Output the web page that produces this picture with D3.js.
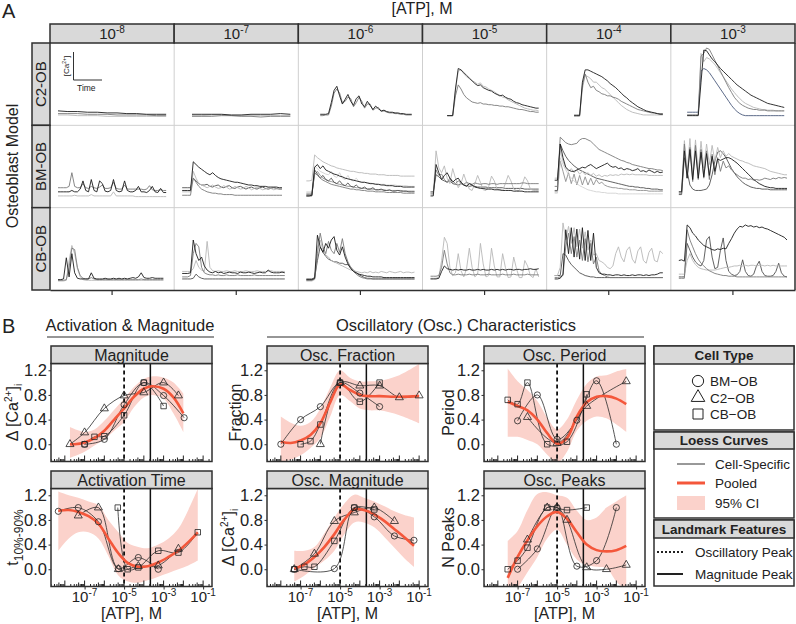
<!DOCTYPE html>
<html>
<head>
<meta charset="utf-8">
<script src="https://d3js.org/d3.v7.min.js"></script>
<style>
  body { margin: 0; background: #fff; }
  svg text { font-family: "Liberation Sans", Arial, sans-serif; fill: #222; }
</style>
</head>
<body>
<script>
// ---------- panel A data ----------
const concExp = ["-8", "-7", "-6", "-5", "-4", "-3"];
const modelsA = ["C2-OB", "BM-OB", "CB-OB"];
const _ = null;

// each cell: list of traces, values in % of cell height, evenly spaced in time
const tracesC2 = [
  [[8,7,7,6,6,5,5,4,4,3,3,3],
   [4,4,4,3,3,3,2,2,2,2,1,1],
   [2,2,1,1,1,0,0,0,0,0,0,0]],
  [[_,3,3,3,3,2,2,3,3,3,4,3],
   [_,0,0,0,1,1,0,0,-1,0,0,0],
   [_,1,1,2,2,1,1,1,1,1,1,1]],
  [[_,_,_,_,_,3,3,3,4,20,38,44,30,18,25,32,22,16,26,30,18,14,22,16,10,15,11,8,9,7,6,6,5,5,4,4,3,3,3,_],
   [_,_,_,_,_,1,1,2,2,15,34,40,34,20,22,28,26,14,20,28,22,12,18,18,9,12,13,7,8,6,5,5,4,4,3,3,2,2,2,_]],
  [[_,_,_,_,_,_,1,1,1,40,70,68,64,60,56,52,48,45,46,42,40,38,37,34,32,30,31,28,26,25,22,20,19,17,16,15,14,13,12,12],
   [_,_,_,_,_,_,1,1,1,30,46,40,32,27,24,21,20,19,20,18,18,17,17,16,16,15,15,14,14,13,12,11,10,10,9,8,7,7,6,6],
   [_,_,_,_,_,_,1,1,1,38,66,68,62,58,55,52,50,47,49,44,43,40,38,36,33,31,28,27,24,22,20,18,16,14,12,11,10,9,9,8]],
  [[_,_,_,_,_,_,_,1,1,1,50,68,68,66,64,62,60,58,55,52,48,45,42,38,34,30,27,23,20,17,14,12,10,8,7,6,5,4,3,3],
   [_,_,_,_,_,_,_,2,2,2,45,62,50,42,44,38,36,33,32,30,30,28,27,25,22,20,18,16,14,12,10,9,8,7,6,5,5,4,4,4],
   [_,_,_,_,_,_,_,0,0,0,40,60,58,55,50,50,46,42,40,36,32,28,24,20,16,13,10,8,6,5,4,3,2,2,2,2,2,2,2,2]],
  [[_,_,_,1,1,1,1,1,50,97,96,90,84,80,75,70,66,62,58,54,50,46,43,40,37,34,31,29,27,25,23,21,19,18,17,16,15,14,13,_],
   [_,_,_,2,2,2,2,2,88,92,100,98,90,82,74,66,58,50,42,35,28,23,19,16,14,12,11,10,10,9,9,9,8,8,8,8,8,8,8,_],
   [_,_,_,2,2,2,2,2,92,80,86,84,80,76,70,64,58,52,46,40,35,30,26,22,19,17,15,13,12,11,10,10,9,9,9,8,8,8,8,_],
   [_,_,_,6,6,6,6,6,66,70,68,64,58,52,46,40,34,28,22,16,11,7,4,2,1,1,1,1,1,1,1,1,1,1,1,1,1,1,1,_]]
];

const tracesBM = [
  [[10,10,10,10,10,12,10,10,14,26,12,10,28,12,10,26,22,11,10,12,28,12,10,11,26,12,10,10,12,18,10,10,9,12,18,10,9,15,9,9],
   [16,16,16,16,18,38,18,16,16,22,16,15,18,16,15,17,20,15,15,16,24,15,14,14,20,14,14,14,14,14,14,13,14,19,13,12,12,13,12,12],
   [4,4,4,4,4,4,5,4,4,4,4,4,6,4,4,4,4,4,4,4,10,4,4,4,4,4,4,4,3,3,3,3,3,3,3,3,3,3,3,3]],
  [[12,12,12,12,54,50,46,43,40,37,35,38,34,31,29,28,27,26,25,24,24,23,22,21,20,20,19,19,18,18,18,17,17,17,17,16,16,_,_,_],
   [5,5,5,5,30,24,18,14,12,10,9,8,8,7,7,6,6,6,6,5,5,5,5,5,5,5,5,5,5,5,5,5,5,5,5,5,5,_,_,_],
   [10,10,10,10,40,30,22,20,18,16,18,20,17,15,16,19,17,14,15,18,16,14,15,18,16,13,15,17,15,13,14,16,15,13,14,15,14,_,_,_],
   [16,16,16,16,30,26,22,20,20,21,18,17,19,20,17,16,18,19,16,15,17,18,16,14,16,17,15,14,16,17,15,14,15,16,15,14,14,_,_,_]],
  [[4,4,5,46,50,44,48,42,40,38,36,35,33,32,30,29,28,27,26,25,24,24,23,22,22,21,21,20,20,19,19,19,18,18,18,17,17,17,17,17],
   [6,6,6,38,34,30,27,25,23,21,20,19,18,17,16,15,14,14,13,13,12,12,11,11,11,10,10,10,10,9,9,9,9,9,9,8,8,8,8,8],
   [26,26,27,64,60,57,54,52,50,48,47,45,44,43,42,41,40,40,39,38,38,37,37,36,36,36,35,35,35,34,34,34,34,34,33,33,33,33,33,33],
   [4,4,4,42,36,30,34,28,26,30,24,22,26,21,19,23,18,17,20,16,15,17,14,14,16,13,13,14,12,12,13,11,11,12,11,11,11,10,10,10],
   [10,10,10,48,44,40,38,36,35,40,33,31,38,30,28,34,27,26,30,25,24,24,23,23,22,22,21,21,21,20,20,20,20,19,19,19,19,18,18,18],
   [8,8,8,35,40,34,30,28,26,25,24,22,21,20,19,18,18,17,16,16,15,15,14,14,14,13,13,13,13,12,12,12,12,12,12,11,11,11,11,11]],
  [[4,4,50,38,28,34,38,30,24,28,30,24,20,18,22,20,17,16,15,15,14,14,14,13,13,13,12,12,12,12,11,11,11,11,10,10,10,10,10,10],
   [8,8,42,34,36,28,24,30,26,22,26,23,21,24,22,21,23,22,21,22,22,21,22,22,21,22,22,22,22,22,22,22,22,23,23,22,22,22,22,22],
   [6,6,70,45,38,48,30,22,44,30,16,22,36,24,14,12,22,34,24,13,12,18,33,26,14,12,12,22,34,26,14,12,12,20,32,26,14,12,12,12],
   [10,10,35,32,28,26,24,26,22,21,20,22,20,19,18,19,18,17,17,17,17,16,16,16,16,16,16,15,15,15,15,15,15,15,14,14,14,14,14,14]],
  [[27,27,80,60,46,42,40,40,42,44,46,45,48,50,47,44,46,48,50,52,48,46,47,44,45,42,44,43,41,42,44,40,41,39,42,40,38,40,38,39],
   [18,18,90,86,82,80,79,80,81,86,88,88,86,84,80,76,72,70,68,66,64,62,60,58,56,55,53,52,50,49,48,47,46,45,44,44,43,42,42,41],
   [30,30,70,55,45,40,44,38,42,36,40,35,38,34,37,33,35,32,34,33,35,34,35,34,36,35,36,35,36,35,35,35,35,35,34,34,34,34,34,34],
   [12,12,80,70,62,56,52,48,45,42,40,38,36,34,32,30,29,28,27,26,25,24,23,22,21,20,19,18,18,17,17,16,16,15,15,14,14,14,13,13],
   [8,8,60,50,42,35,30,26,22,19,17,15,13,12,11,10,10,9,9,8,8,8,8,7,7,7,7,7,7,7,7,7,7,7,7,7,7,7,7,7],
   [10,10,55,40,25,38,22,36,20,34,20,32,20,30,20,28,22,24,20,18,17,16,16,15,15,14,14,13,13,13,12,12,12,12,11,11,11,11,11,11]],
  [[10,10,70,30,72,28,70,30,68,32,66,34,62,40,58,56,58,60,60,58,55,52,48,44,40,36,32,28,25,22,20,18,17,16,16,15,15,15,15,15],
   [8,8,80,30,75,25,78,28,72,30,70,28,65,35,60,40,55,45,48,42,38,35,32,30,30,28,29,27,28,27,28,30,29,28,30,29,31,30,31,30],
   [10,10,85,40,88,35,86,40,84,45,80,50,78,55,75,60,70,62,66,62,60,58,56,55,53,52,50,48,47,46,45,44,42,40,39,38,37,36,35,35],
   [6,6,60,40,20,14,12,12,12,13,14,20,35,55,68,70,66,60,52,44,38,32,28,24,21,19,17,16,15,15,14,14,14,13,13,13,13,13,13,13]]
];

const tracesCB = [
  [[2,2,3,34,6,40,12,4,3,3,3,3,12,4,3,3,3,4,3,3,4,3,4,3,4,3,4,5,4,6,12,5,4,4,5,4,4,4,4,_],
   [1,1,1,2,20,48,46,20,8,4,3,3,5,3,2,2,2,2,2,2,2,2,2,2,2,2,2,2,2,2,3,2,2,2,2,2,2,2,2,_],
   [0,0,0,1,30,52,40,18,6,2,1,1,1,1,1,1,1,1,1,1,1,1,1,1,1,1,1,1,1,1,1,1,1,1,1,1,1,1,1,_]],
  [[11,11,11,12,60,40,30,35,22,16,13,12,14,12,13,11,12,13,12,12,11,13,12,12,13,12,11,12,13,12,12,16,13,12,12,12,13,12,_,_],
   [6,6,6,8,40,55,50,20,12,10,9,9,8,9,8,8,9,8,8,8,9,8,8,8,8,8,9,8,8,8,8,8,8,8,8,8,8,8,_,_],
   [14,14,14,14,18,30,20,16,14,58,20,15,14,15,14,14,15,14,14,15,14,14,14,15,14,14,14,15,14,14,14,14,15,14,14,14,14,14,_,_],
   [3,3,3,3,4,10,6,4,3,3,3,3,3,3,3,3,3,3,3,3,3,3,3,3,3,3,3,3,3,3,3,3,3,3,3,3,3,3,_,_]],
  [[2,2,2,4,67,50,42,55,48,60,65,45,38,50,35,25,18,14,12,10,9,8,7,7,6,6,6,6,5,5,5,5,5,5,5,5,5,5,5,5],
   [1,1,1,3,40,70,50,40,58,45,40,55,42,62,40,28,20,14,10,7,5,4,3,3,3,3,3,3,3,3,3,3,3,3,3,3,3,3,3,3],
   [0,0,0,2,50,60,45,38,35,30,28,26,24,22,20,18,16,15,14,13,12,13,12,14,12,13,12,14,13,12,14,13,12,13,14,12,13,13,12,13],
   [3,3,3,5,30,50,42,36,32,30,28,28,26,26,24,24,20,16,12,9,7,5,4,4,3,3,3,3,3,3,3,3,3,3,3,3,3,3,3,3]],
  [[3,3,3,4,14,22,18,17,16,17,16,17,16,16,17,16,16,17,16,17,16,16,17,16,17,16,17,16,17,17,16,17,17,16,17,17,18,17,17,18],
   [7,7,7,8,20,45,25,12,9,9,10,9,9,9,10,9,9,10,9,9,9,10,9,9,9,9,10,9,9,9,10,9,9,9,9,10,9,9,9,9],
   [4,4,4,6,30,64,55,20,8,12,40,15,6,18,48,20,6,10,55,25,6,8,48,22,6,6,40,20,5,6,35,18,5,5,30,22,8,5,18,6]],
  [[3,3,4,10,75,40,78,35,76,32,78,30,74,30,70,20,12,10,10,9,9,8,9,9,8,9,8,8,9,8,9,9,8,9,8,9,9,10,12,12],
   [5,5,6,8,50,70,40,65,35,60,30,62,28,55,25,35,15,10,8,6,5,5,5,5,5,5,5,5,5,5,5,5,5,5,5,5,5,5,5,5],
   [8,8,20,85,60,80,55,78,50,76,48,72,45,60,38,40,30,28,25,20,18,22,40,50,35,28,45,50,32,26,44,50,30,26,42,48,30,28,44,40],
   [8,8,8,40,38,30,24,20,16,12,10,8,7,6,6,5,5,5,5,5,5,5,5,5,5,5,5,5,5,5,5,5,5,5,5,5,5,5,5,5]],
  [[30,31,29,82,78,70,66,60,56,52,50,48,46,45,47,46,48,47,55,62,70,76,80,79,82,80,81,79,80,78,79,77,76,74,72,70,68,66,64,60],
   [4,4,4,75,60,50,40,32,26,22,18,15,13,11,10,9,8,8,7,7,7,6,6,6,6,6,6,6,6,6,6,6,6,6,6,6,6,6,6,6],
   [10,10,10,30,40,30,24,20,18,17,16,16,16,16,17,18,19,20,20,21,22,22,23,22,23,22,23,23,22,23,23,22,23,22,23,22,22,22,22,22],
   [6,6,6,55,45,35,28,24,22,30,60,65,35,18,20,45,63,30,14,10,8,9,14,31,14,8,7,10,22,29,14,8,7,7,8,14,26,12,7,6]]
];

// ---------- panel B data: [log10 ATP, value] ----------
const magBM = [[-7,0],[-6,0.08],[-5,0.64],[-4,1.0],[-3,0.79],[-1.96,0.43]];
const magC2 = [[-7.74,0],[-7,0.19],[-6,0.58],[-5,0.79],[-4,0.84],[-3,1.0],[-2.25,0.79]];
const magCB = [[-7,0],[-6.5,0.12],[-6,0.13],[-5,0.47],[-4,1.0],[-3,0.62]];
const magPooled = [[-7.74,0],[-7.5,0],[-7,0.03],[-6.5,0.1],[-6,0.22],[-5.5,0.4],[-5,0.58],[-4.5,0.77],[-4,0.9],[-3.6,0.94],[-3,0.9],[-2.5,0.76],[-2,0.5]];
const magCI = [[-7.74,-0.22,0.28],[-7,-0.12,0.2],[-6.5,-0.02,0.24],[-6,0.08,0.38],[-5.5,0.22,0.56],[-5,0.36,0.74],[-4.5,0.6,0.93],[-4,0.76,1.06],[-3.6,0.8,1.1],[-3,0.74,1.08],[-2.5,0.5,1.0],[-2,0.2,0.82]];

const fracBM = [[-8,0],[-7,0.4],[-6,0.61],[-5,1.0],[-4,0.83],[-3,0.61]];
const fracC2 = [[-6,0],[-5,1.0],[-4,0.95],[-3,0.95],[-2,0.76],[-1,0.79]];
const fracCB = [[-7,0],[-6.5,0.05],[-6,0.32],[-5,1.0],[-4,0.69],[-3,1.0]];
const fracPooled = [[-8,0.04],[-7.5,0.02],[-7,0.06],[-6.5,0.15],[-6,0.34],[-5.5,0.68],[-5,0.97],[-4.5,0.88],[-4,0.8],[-3.5,0.78],[-3,0.78],[-2,0.77],[-1,0.78]];
const fracCI = [[-8,-0.3,0.45],[-7.5,-0.25,0.35],[-7,-0.18,0.3],[-6.5,-0.06,0.36],[-6,0.1,0.58],[-5.5,0.45,0.92],[-5,0.8,1.2],[-4.5,0.7,1.08],[-4,0.58,1.02],[-3.5,0.55,1.02],[-3,0.55,1.03],[-2,0.47,1.12],[-1,0.34,1.3]];

const perBM = [[-7,0.38],[-6,0.8],[-5,0.08],[-4,0.39],[-3,1.03],[-2,0]];
const perC2 = [[-6.5,0.44],[-5,0.02],[-3.5,0.62],[-1.5,1.02]];
const perCB = [[-7.5,0.72],[-7,0.65],[-6.5,1.0],[-5.5,0],[-4.5,0.04],[-3.5,0.81]];
const perPooled = [[-7.5,0.69],[-7,0.62],[-6.5,0.55],[-6,0.4],[-5.5,0.18],[-5,0.01],[-4.5,0.1],[-4,0.45],[-3.5,0.68],[-3,0.77],[-2.5,0.78],[-2,0.74],[-1.5,0.65]];
const perCI = [[-7.5,0.12,1.23],[-7,0.12,1.02],[-6.5,0.07,0.88],[-6,0,0.7],[-5.5,-0.17,0.43],[-5,-0.3,0.24],[-4.5,-0.12,0.4],[-4,0.22,0.72],[-3.5,0.38,0.98],[-3,0.45,1.1],[-2.5,0.42,1.12],[-2,0.32,1.18],[-1.5,0.2,1.22]];

const actBM = [[-8.33,0.94],[-7.32,1.0],[-6.3,0.77],[-5.29,0.01],[-4.28,0.19],[-3.27,0]];
const actC2 = [[-7.32,0.87],[-6.3,1.0],[-5.29,0],[-4.28,0.05],[-3.27,0.06],[-2.25,0.33]];
const actCB = [[-5.32,1.0],[-4.82,0],[-4.28,0.03],[-3.27,0.3],[-2.25,0.27],[-1.27,0.6]];
const actPooled = [[-8.33,0.95],[-7.8,0.96],[-7.32,0.93],[-6.8,0.86],[-6.3,0.74],[-5.8,0.5],[-5.29,0.26],[-4.8,0.1],[-4.28,0.04],[-3.8,0.05],[-3.27,0.11],[-2.75,0.2],[-2.25,0.3],[-1.75,0.44],[-1.27,0.6]];
const actCI = [[-8.33,0.3,1.26],[-7.8,0.5,1.2],[-7.32,0.6,1.16],[-6.8,0.6,1.1],[-6.3,0.5,1.04],[-5.8,0.22,0.8],[-5.29,-0.1,0.6],[-4.8,-0.2,0.42],[-4.28,-0.22,0.36],[-3.8,-0.18,0.34],[-3.27,-0.12,0.4],[-2.75,-0.06,0.5],[-2.25,0,0.66],[-1.75,0.06,0.96],[-1.27,0.14,1.3]];

const omagBM = [[-7.32,0],[-5.29,0.01],[-4.28,1.0],[-3.27,0.85],[-2.25,0.54],[-1.26,0.47]];
const omagC2 = [[-7.32,0],[-6.3,0.25],[-5.29,0.78],[-4.28,0.92],[-3.27,1.0],[-2.25,0.78]];
const omagCB = [[-7.32,0],[-6.81,0.04],[-6.3,0.04],[-5.29,0.46],[-4.28,1.0],[-3.27,0.97]];
const omagPooled = [[-7.32,0.01],[-6.8,0.08],[-6.3,0.2],[-5.8,0.36],[-5.29,0.57],[-4.8,0.8],[-4.28,0.97],[-3.8,0.96],[-3.27,0.89],[-2.75,0.78],[-2.25,0.65],[-1.75,0.52],[-1.26,0.38]];
const omagCI = [[-7.32,-0.2,0.3],[-6.8,-0.1,0.3],[-6.3,0.02,0.36],[-5.8,0.14,0.58],[-5.29,0.3,0.84],[-4.8,0.56,1.06],[-4.28,0.76,1.21],[-3.8,0.76,1.16],[-3.27,0.68,1.1],[-2.75,0.52,1.02],[-2.25,0.35,0.94],[-1.75,0.18,0.88],[-1.26,0.04,0.84]];

const peakBM = [[-7,0],[-6,0.33],[-5,1.0],[-4,0.05],[-3,0.14],[-2,1.0]];
const peakC2 = [[-6.5,0.48],[-5.5,1.0],[-5,1.0],[-4.5,0.8],[-3.5,0.03],[-2.5,0],[-1.5,0.07]];
const peakCB = [[-7.5,0],[-7,0.14],[-6.5,0.35],[-5.5,1.0],[-4.5,0.96],[-3.5,1.0]];
const peakPooled = [[-7.5,-0.14],[-7,0.2],[-6.5,0.47],[-6,0.7],[-5.5,0.86],[-5,0.93],[-4.5,0.82],[-4,0.6],[-3.5,0.4],[-3,0.31],[-2.5,0.29],[-2,0.31],[-1.5,0.38]];
const peakCI = [[-7.5,-0.5,0.46],[-7,-0.3,0.62],[-6.5,-0.05,0.96],[-6,0.2,1.22],[-5.5,0.5,1.25],[-5,0.64,1.2],[-4.5,0.4,1.16],[-4,0.16,0.95],[-3.5,0.06,0.8],[-3,0.04,0.84],[-2.5,0.02,1.0],[-2,-0.2,1.1],[-1.5,-0.35,1.2]];

const oscPeakLog = -5;
const magPeakLog = -3.67;
const yTicksB = [0, 0.4, 0.8, 1.2];
const xLabelsB = [-7, -5, -3, -1];
const cellTypes = ["BM\u2212OB", "C2\u2212OB", "CB\u2212OB"];

// ---------- setup ----------
const svg = d3.select("body").append("svg").attr("width", 796).attr("height", 624);
const dark = "#2f2f2f", stripFill = "#d9d9d9";
const redLine = "#f4573b", ribbon = "#fbd2cb";

function sup(text, base, s, sz) {
  text.append("tspan").text(base);
  text.append("tspan").attr("dy", -6).style("font-size", sz + "px").text(s);
}

// ================= PANEL A =================
const colX = d3.scaleBand().domain(concExp).range([50, 795]);
const rowY = d3.scaleBand().domain(modelsA).range([43, 290]);

svg.append("text").attr("x", 2).attr("y", 18).style("font-size", "20px").text("A");
svg.append("text").attr("x", 422).attr("y", 14).attr("text-anchor", "middle")
  .style("font-size", "16px").text("[ATP], M");
svg.append("text").attr("transform", "translate(18,166) rotate(-90)").attr("text-anchor", "middle")
  .style("font-size", "16px").text("Osteoblast Model");

// light cell grid
concExp.slice(1).forEach(e => {
  svg.append("line").attr("x1", colX(e)).attr("x2", colX(e)).attr("y1", 43).attr("y2", 290)
    .attr("stroke", "#cfcfcf").attr("stroke-width", 1);
});
modelsA.slice(1).forEach(m => {
  svg.append("line").attr("x1", 50).attr("x2", 795).attr("y1", rowY(m)).attr("y2", rowY(m))
    .attr("stroke", "#cfcfcf").attr("stroke-width", 1);
});

// traces
const greys = ["#1c1c1c", "#7a7a7a", "#b8b8b8", "#505050", "#d2d2d2", "#909090"];
const allTraces = [tracesC2, tracesBM, tracesCB];
modelsA.forEach((m, r) => {
  concExp.forEach((e, c) => {
    const x0 = colX(e), y0 = rowY(m);
    const cell = allTraces[r][c];
    const ys = d3.scaleLinear().domain([0, 100]).range([y0 + rowY.bandwidth() - 9, y0 + 5]);
    for (let k = cell.length - 1; k >= 0; k--) {
      const vals = cell[k];
      const xs = d3.scaleLinear().domain([0, vals.length - 1]).range([x0 + 8, x0 + colX.bandwidth() - 8]);
      const line = d3.line().defined(d => d !== null).x((d, i) => xs(i)).y(d => ys(d));
      svg.append("path").attr("d", line(vals)).attr("fill", "none")
        .attr("stroke", (r === 0 && c === 5 && k === 3) ? "#4b5a7c" : greys[k])
        .attr("stroke-width", 0.9).attr("stroke-linejoin", "round");
    }
  });
});

// scale bar in first cell
const sb = svg.append("g").attr("stroke", "#333").attr("stroke-width", 1);
sb.append("line").attr("x1", 73.5).attr("x2", 73.5).attr("y1", 52).attr("y2", 80);
sb.append("line").attr("x1", 73.5).attr("x2", 102).attr("y1", 80).attr("y2", 80);
const cal = svg.append("text").attr("transform", "translate(69,66) rotate(-90)")
  .attr("text-anchor", "middle").style("font-size", "8px");
cal.append("tspan").text("[Ca");
cal.append("tspan").attr("dy", -3).style("font-size", "5px").text("2+");
cal.append("tspan").attr("dy", 3).text("]");
svg.append("text").attr("x", 77).attr("y", 91).style("font-size", "8.5px").text("Time");

// column strips
concExp.forEach(e => {
  svg.append("rect").attr("x", colX(e)).attr("y", 24).attr("width", colX.bandwidth()).attr("height", 19)
    .attr("fill", stripFill).attr("stroke", dark).attr("stroke-width", 1.5);
  const t = svg.append("text").attr("x", colX(e) + colX.bandwidth() / 2).attr("y", 39)
    .attr("text-anchor", "middle").style("font-size", "15px");
  sup(t, "10", e, 10);
});
// row strips
modelsA.forEach(m => {
  svg.append("rect").attr("x", 32).attr("y", rowY(m)).attr("width", 18).attr("height", rowY.bandwidth())
    .attr("fill", stripFill).attr("stroke", dark).attr("stroke-width", 1.5);
  svg.append("text").attr("transform", `translate(46,${rowY(m) + rowY.bandwidth() / 2}) rotate(-90)`)
    .attr("text-anchor", "middle").style("font-size", "15px").text(m);
});
svg.append("line").attr("x1", 795).attr("x2", 795).attr("y1", 43).attr("y2", 290)
  .attr("stroke", dark).attr("stroke-width", 1.5);
const axA = svg.append("g").attr("transform", "translate(0,290)")
  .call(d3.axisBottom(colX).tickFormat("").tickSize(5).tickSizeOuter(0));
axA.select(".domain").attr("stroke", dark).attr("stroke-width", 1.5);
axA.selectAll(".tick line").attr("stroke", dark).attr("stroke-width", 1.2);

// ================= PANEL B =================
svg.append("text").attr("x", 2).attr("y", 333).style("font-size", "20px").text("B");
svg.append("text").attr("x", 130).attr("y", 331).attr("text-anchor", "middle")
  .style("font-size", "16.5px").text("Activation & Magnitude");
svg.append("line").attr("x1", 47).attr("x2", 214).attr("y1", 337).attr("y2", 337)
  .attr("stroke", dark).attr("stroke-width", 1.2);
svg.append("text").attr("x", 456).attr("y", 331).attr("text-anchor", "middle")
  .style("font-size", "16.5px").text("Oscillatory (Osc.) Characteristics");
svg.append("line").attr("x1", 267).attr("x2", 644).attr("y1", 337).attr("y2", 337)
  .attr("stroke", dark).attr("stroke-width", 1.2);

const colLeft = [51, 267, 484];
const stripTop = [346, 471];
const ytBase = [[17.5, 240.5, 453.5], [17.5, 234, 453.5]];
const panelW = 161, stripH = 17.5, plotH = 98;

const panels = [
  {title: "Magnitude", col: 0, row: 0, ylab: "ca", bm: magBM, c2: magC2, cb: magCB, pooled: magPooled, ci: magCI},
  {title: "Osc. Fraction", col: 1, row: 0, ylab: "Fraction", bm: fracBM, c2: fracC2, cb: fracCB, pooled: fracPooled, ci: fracCI},
  {title: "Osc. Period", col: 2, row: 0, ylab: "Period", bm: perBM, c2: perC2, cb: perCB, pooled: perPooled, ci: perCI},
  {title: "Activation Time", col: 0, row: 1, ylab: "t", bm: actBM, c2: actC2, cb: actCB, pooled: actPooled, ci: actCI},
  {title: "Osc. Magnitude", col: 1, row: 1, ylab: "ca", bm: omagBM, c2: omagC2, cb: omagCB, pooled: omagPooled, ci: omagCI},
  {title: "Osc. Peaks", col: 2, row: 1, ylab: "N Peaks", bm: peakBM, c2: peakC2, cb: peakCB, pooled: peakPooled, ci: peakCI}
];

const symCircle = d3.symbol().type(d3.symbolCircle).size(30);
const symTri = d3.symbol().type(d3.symbolTriangle).size(28);
const symSq = d3.symbol().type(d3.symbolSquare).size(30);

panels.forEach((p, idx) => {
  const left = colLeft[p.col];
  const sTop = stripTop[p.row];
  const top = sTop + stripH, bottom = top + plotH;
  const x = d3.scaleLinear().domain([-8.7, -0.55]).range([left, left + panelW]);
  const y = d3.scaleLinear().domain([-0.28, 1.31]).range([bottom, top]);
  const g = svg.append("g");

  const clipId = "clip" + idx;
  svg.append("clipPath").attr("id", clipId).append("rect")
    .attr("x", left).attr("y", top).attr("width", panelW).attr("height", plotH);
  const inner = g.append("g").attr("clip-path", `url(#${clipId})`);

  // CI ribbon
  inner.append("path").datum(p.ci)
    .attr("d", d3.area().curve(d3.curveCatmullRom).x(d => x(d[0])).y0(d => y(d[1])).y1(d => y(d[2])))
    .attr("fill", ribbon);

  // landmark lines
  inner.append("line").attr("x1", x(oscPeakLog)).attr("x2", x(oscPeakLog)).attr("y1", top).attr("y2", bottom)
    .attr("stroke", "#111").attr("stroke-width", 1.8).attr("stroke-dasharray", "4,3");
  inner.append("line").attr("x1", x(magPeakLog)).attr("x2", x(magPeakLog)).attr("y1", top).attr("y2", bottom)
    .attr("stroke", "#111").attr("stroke-width", 1.5);

  // log ticks
  for (let k = -9; k <= -1; k++) {
    for (let m = 1; m <= 9; m++) {
      const v = k + Math.log10(m);
      if (v < -8.7 || v > -0.55) continue;
      const len = m === 1 ? 6 : (m === 5 ? 4 : 2.5);
      inner.append("line").attr("x1", x(v)).attr("x2", x(v)).attr("y1", bottom).attr("y2", bottom - len)
        .attr("stroke", "#222").attr("stroke-width", 1);
    }
  }

  // cell specific curves
  const cline = d3.line().curve(d3.curveCatmullRom.alpha(0.5)).x(d => x(d[0])).y(d => y(d[1]));
  [p.bm, p.c2, p.cb].forEach(s => {
    inner.append("path").attr("d", cline(s)).attr("fill", "none").attr("stroke", "#2b2b2b").attr("stroke-width", 0.8);
  });
  // pooled
  inner.append("path").attr("d", d3.line().curve(d3.curveCatmullRom).x(d => x(d[0])).y(d => y(d[1]))(p.pooled))
    .attr("fill", "none").attr("stroke", redLine).attr("stroke-width", 2.6);

  // markers
  [[p.bm, symCircle], [p.c2, symTri], [p.cb, symSq]].forEach(([s, sym]) => {
    inner.selectAll(null).data(s).join("path")
      .attr("transform", d => `translate(${x(d[0])},${y(d[1])})`)
      .attr("d", sym()).attr("fill", "none").attr("stroke", "#222").attr("stroke-width", 0.8);
  });

  // border + strip
  g.append("rect").attr("x", left).attr("y", top).attr("width", panelW).attr("height", plotH)
    .attr("fill", "none").attr("stroke", dark).attr("stroke-width", 1.5);
  g.append("rect").attr("x", left).attr("y", sTop).attr("width", panelW).attr("height", stripH)
    .attr("fill", stripFill).attr("stroke", dark).attr("stroke-width", 1.5);
  g.append("text").attr("x", left + panelW / 2).attr("y", sTop + 14.5).attr("text-anchor", "middle")
    .style("font-size", "16px").text(p.title);

  // y axis
  const ax = g.append("g").attr("transform", `translate(${left},0)`)
    .call(d3.axisLeft(y).tickValues(yTicksB).tickFormat(d3.format(".1f")).tickSize(2.5).tickPadding(1.5));
  ax.select(".domain").remove();
  ax.selectAll(".tick line").attr("stroke", dark);
  ax.selectAll(".tick text").style("font-size", "16.5px").attr("fill", "#222");

  // y title
  const yt = g.append("text").attr("transform", `translate(${ytBase[p.row][p.col]},${(top + bottom) / 2}) rotate(-90)`)
    .attr("text-anchor", "middle").style("font-size", "16px");
  if (p.ylab === "ca") {
    yt.append("tspan").text("\u0394 [Ca");
    yt.append("tspan").attr("dy", -6).style("font-size", "10px").text("2+");
    yt.append("tspan").attr("dy", 6).text("]");
    yt.append("tspan").attr("dy", 4).style("font-size", "10px").text("i");
  } else if (p.ylab === "t") {
    yt.append("tspan").text("t");
    yt.append("tspan").attr("dy", 5).style("font-size", "12px").text("10%-90%");
  } else {
    yt.text(p.ylab);
  }

  // x axis labels on bottom row
  if (p.row === 1) {
    const xa = g.append("g").attr("transform", `translate(0,${bottom})`)
      .call(d3.axisBottom(x).tickValues(xLabelsB).tickFormat("").tickSize(3));
    xa.select(".domain").remove();
    xa.selectAll(".tick line").attr("stroke", dark);
    xLabelsB.forEach(v => {
      const t = g.append("text").attr("x", x(v)).attr("y", bottom + 15.5).attr("text-anchor", "middle")
        .style("font-size", "15px");
      sup(t, "10", String(v), 10);
    });
    g.append("text").attr("x", left + panelW / 2).attr("y", 619).attr("text-anchor", "middle")
      .style("font-size", "16px").text("[ATP], M");
  }
});

// ================= LEGEND =================
const lg = svg.append("g");
const lx0 = 654, lx1 = 794, lcx = (lx0 + lx1) / 2;
const sections = [
  {title: "Cell Type", top: 346, hb: 364, bottom: 430},
  {title: "Loess Curves", top: 432, hb: 449, bottom: 518},
  {title: "Landmark Features", top: 520, hb: 538, bottom: 586}
];
sections.forEach(s => {
  lg.append("rect").attr("x", lx0).attr("y", s.top).attr("width", lx1 - lx0).attr("height", s.bottom - s.top)
    .attr("fill", "#fff").attr("stroke", dark).attr("stroke-width", 1.5);
  lg.append("rect").attr("x", lx0).attr("y", s.top).attr("width", lx1 - lx0).attr("height", s.hb - s.top)
    .attr("fill", stripFill).attr("stroke", dark).attr("stroke-width", 1.5);
  lg.append("text").attr("x", lcx).attr("y", s.hb - 4.5).attr("text-anchor", "middle")
    .style("font-size", "13.5px").style("font-weight", "bold").text(s.title);
});
const legSyms = [d3.symbolCircle, d3.symbolTriangle, d3.symbolSquare];
cellTypes.forEach((ct, i) => {
  const yy = 381 + i * 16.5;
  lg.append("path").attr("transform", `translate(698,${yy})`)
    .attr("d", d3.symbol().type(legSyms[i]).size(i === 1 ? 80 : 100)())
    .attr("fill", "none").attr("stroke", "#222").attr("stroke-width", 1);
  lg.append("text").attr("x", 710).attr("y", yy + 5).style("font-size", "13.5px").text(ct);
});
lg.append("line").attr("x1", 677).attr("x2", 705).attr("y1", 464).attr("y2", 464).attr("stroke", "#333").attr("stroke-width", 1);
lg.append("text").attr("x", 715).attr("y", 469).style("font-size", "13.5px").text("Cell-Specific");
lg.append("line").attr("x1", 677).attr("x2", 705).attr("y1", 483).attr("y2", 483).attr("stroke", redLine).attr("stroke-width", 3);
lg.append("text").attr("x", 715).attr("y", 488).style("font-size", "13.5px").text("Pooled");
lg.append("rect").attr("x", 677).attr("y", 496).attr("width", 28).attr("height", 14).attr("fill", ribbon);
lg.append("text").attr("x", 715).attr("y", 508).style("font-size", "13.5px").text("95% CI");
lg.append("line").attr("x1", 657).attr("x2", 683).attr("y1", 552).attr("y2", 552).attr("stroke", "#222")
  .attr("stroke-width", 2).attr("stroke-dasharray", "2,2");
lg.append("text").attr("x", 695).attr("y", 557).style("font-size", "13.5px").text("Oscillatory Peak");
lg.append("line").attr("x1", 657).attr("x2", 683).attr("y1", 574).attr("y2", 574).attr("stroke", "#222").attr("stroke-width", 2);
lg.append("text").attr("x", 695).attr("y", 579).style("font-size", "13.5px").text("Magnitude Peak");
</script>
</body>
</html>
